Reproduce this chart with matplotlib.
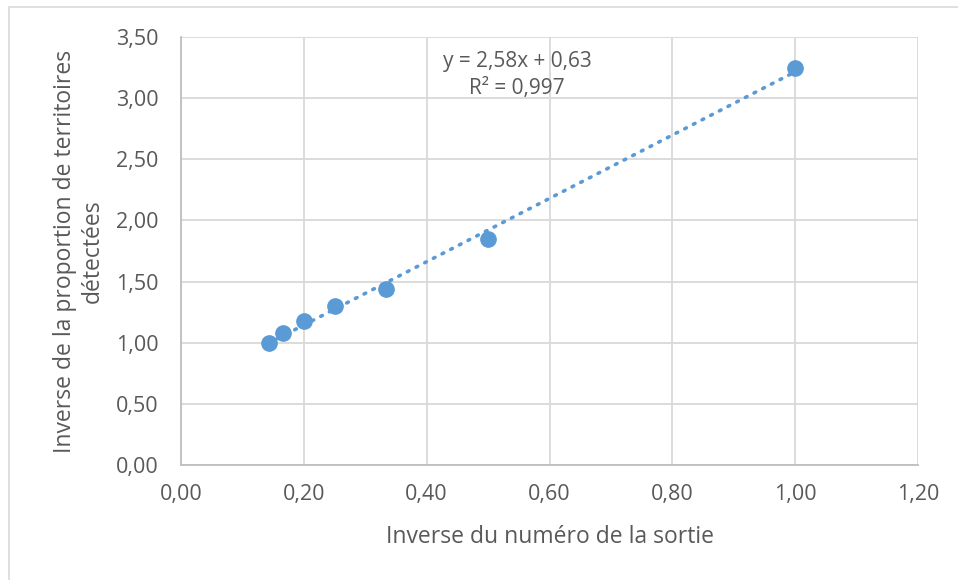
import numpy as np
import matplotlib.pyplot as plt
from matplotlib.patches import Rectangle
from matplotlib.ticker import FuncFormatter

# Inverse du numéro de la sortie (1/7 ... 1)
x_vals = [1 / 7, 1 / 6, 1 / 5, 1 / 4, 1 / 3, 1 / 2, 1.0]
# Inverse de la proportion de territoires détectées
y_vals = [1.00, 1.08, 1.18, 1.30, 1.44, 1.85, 3.25]

eq_text = "y = 2,58x + 0,63"
r2_text = "R² = 0,997"

blue = "#5B9BD5"
text_col = "#595959"

plt.rcParams['font.family'] = ['Open Sans', 'DejaVu Sans']

fig = plt.figure(figsize=(9.58, 5.8), dpi=100)
ax = fig.add_axes([181 / 958, 1 - 465 / 580, (918 - 181) / 958, (465 - 37) / 580])

# chart border
fig.patches.append(Rectangle((9 / 958, -0.05), 1.0, 1 - 7 / 580 + 0.05,
                             transform=fig.transFigure, fill=False,
                             edgecolor="#D9D9D9", linewidth=1.2))

# linear trendline
slope, intercept = np.polyfit(x_vals, y_vals, 1)
xt = np.array([min(x_vals), max(x_vals)])
ax.plot(xt, slope * xt + intercept, color=blue, linestyle=(0, (0.5, 2.2)),
        linewidth=2.6, dash_capstyle="round", zorder=2)

ax.plot(x_vals, y_vals, "o", color=blue, markersize=11, zorder=3)

ax.set_xlim(0, 1.2)
ax.set_ylim(0, 3.5)
ax.set_xticks(np.arange(0, 1.21, 0.2))
ax.set_yticks(np.arange(0, 3.51, 0.5))
fmt = FuncFormatter(lambda v, p: f"{v:.2f}".replace(".", ","))
ax.xaxis.set_major_formatter(fmt)
ax.yaxis.set_major_formatter(fmt)

ax.grid(True, color="#D9D9D9", linewidth=1.3)
ax.set_axisbelow(True)
for s in ["top", "right"]:
    ax.spines[s].set_visible(False)
for s in ["left", "bottom"]:
    ax.spines[s].set_color("#BFBFBF")
    ax.spines[s].set_linewidth(1.3)
ax.tick_params(length=0, labelsize=15.5, labelcolor=text_col)
ax.tick_params(axis="y", pad=16)
ax.tick_params(axis="x", pad=14)

ax.set_xlabel("Inverse du numéro de la sortie", fontsize=16.5, color=text_col, labelpad=14)
ax.set_ylabel("Inverse de la proportion de territoires\ndétectées", fontsize=16.5,
              color=text_col, linespacing=1.2, labelpad=8)

ax.text(0.547, 3.30, eq_text, ha="center", va="center", fontsize=15, color=text_col)
ax.text(0.547, 3.08, r2_text, ha="center", va="center", fontsize=15, color=text_col)

fig.savefig("out.png", dpi=100)
